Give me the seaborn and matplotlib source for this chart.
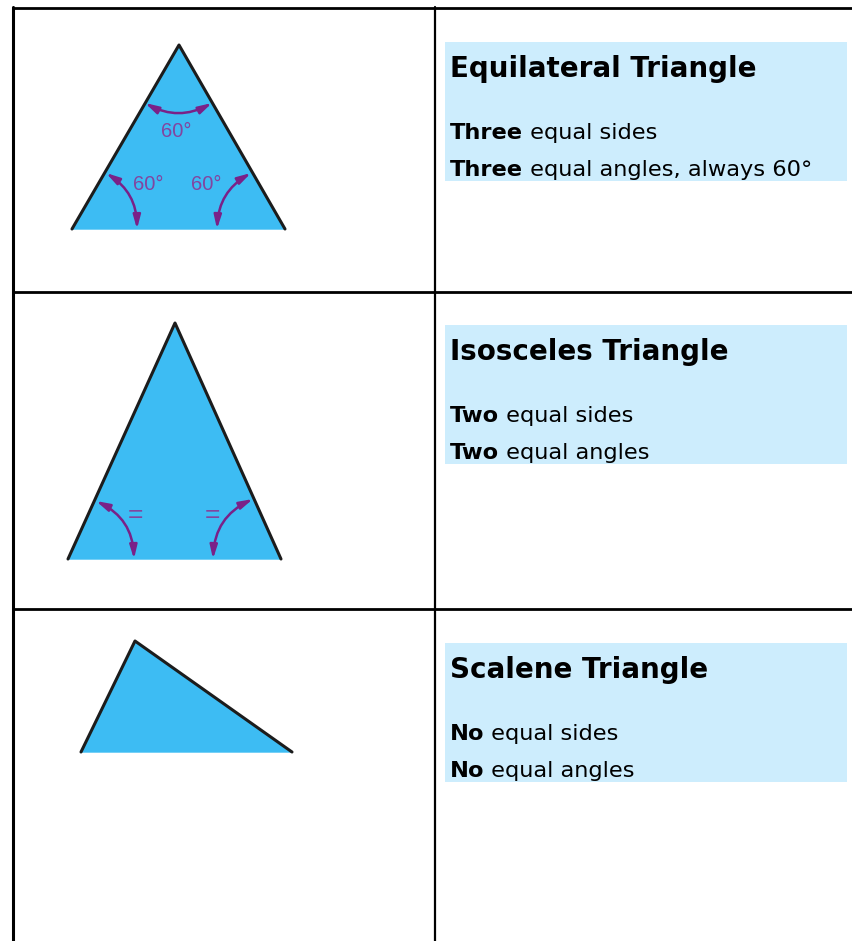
import numpy as np
import pandas as pd
import seaborn as sns
import matplotlib.pyplot as plt

# Table content
titles = ['Equilateral Triangle', 'Isosceles Triangle', 'Scalene Triangle']
bold_words = [['Three', 'Three'], ['Two', 'Two'], ['No', 'No']]
rest_words = [[' equal sides', ' equal angles, always 60°'],
              [' equal sides', ' equal angles'],
              [' equal sides', ' equal angles']]

# Triangle corners (picture pixels)
tri_x = [[72, 179, 285], [68, 175, 281], [81, 135, 292]]
tri_y = [[229, 45, 229], [559, 323, 559], [752, 641, 752]]

# Angle arrows: start point, end point, bend
arc_start = [(145, 103), (106, 173), (251, 173), (96, 501), (253, 499)]
arc_end = [(212, 103), (137, 229), (217, 229), (134, 559), (213, 559)]
arc_rad = [0.27, -0.27, 0.27, -0.3, 0.3]

# Angle labels
lab_text = ['60°', '60°', '60°', '=', '=']
lab_x = [176, 148, 206, 135, 212]
lab_y = [131, 184, 184, 515, 515]

# Row layout
box_top = [42, 325, 643]
row_lines = [8, 292, 609]

sns.set_style('white')
plt.rcParams['font.family'] = ['DejaVu Sans']
plt.rcParams['text.color'] = 'black'

fig = plt.figure(figsize=(8.53, 9.41), dpi=100)
ax = fig.add_axes([0, 0, 1, 1])
ax.set_xlim(0, 853)
ax.set_ylim(941, 0)
ax.axis('off')

# table grid
for y in row_lines:
    ax.plot([12, 853], [y, y], color='black', lw=2.0, solid_capstyle='butt')
ax.plot([13, 13], [7, 941], color='black', lw=2.2)
ax.plot([435, 435], [7, 941], color='black', lw=1.6)

fill_col = '#3dbcf3'
purple = '#7a2188'
for xs, ys in zip(tri_x, tri_y):
    ax.fill(xs, ys, color=fill_col, zorder=2)
    df = pd.DataFrame({'x': xs + xs[:1], 'y': ys + ys[:1]})
    sns.lineplot(data=df, x='x', y='y', sort=False, color='#1c1c1c', lw=2.2,
                 ax=ax, zorder=3)

for p1, p2, r in zip(arc_start, arc_end, arc_rad):
    ax.annotate('', xy=p2, xytext=p1, zorder=4,
                arrowprops=dict(arrowstyle='<|-|>,head_length=0.8,head_width=0.22',
                                connectionstyle=f'arc3,rad={r}', color=purple,
                                lw=1.8, shrinkA=0, shrinkB=0, mutation_scale=10))

for t, x, y in zip(lab_text, lab_x, lab_y):
    ax.text(x, y, t, color='#8245a0', fontsize=14.5 if t != '=' else 19,
            ha='center', va='center', family='Liberation Sans', zorder=4)

for i, top in enumerate(box_top):
    ax.fill([445, 847, 847, 445], [top, top, top + 139, top + 139],
            color='#cdedfd', zorder=1, lw=0)
    ax.text(450, top + 35, titles[i], fontsize=20, fontweight='bold',
            va='baseline', ha='left', zorder=2)
    for j in range(2):
        yb = top + 97 + 37 * j
        b = ax.text(450, yb, bold_words[i][j], fontsize=16.2, fontweight='bold',
                    va='baseline', ha='left', zorder=2)
        ax.annotate(rest_words[i][j], xy=(1, 0), xycoords=b, fontsize=16.2,
                    va='bottom', ha='left', zorder=2)

fig.savefig('out.png', dpi=100)
